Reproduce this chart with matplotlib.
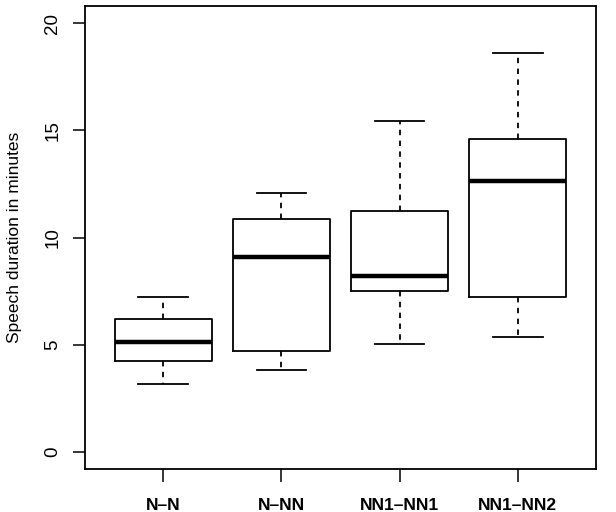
import matplotlib
matplotlib.use("Agg")
import matplotlib.pyplot as plt

# groups and five-number summaries
groups = ["N\u2013N", "N\u2013NN", "NN1\u2013NN1", "NN1\u2013NN2"]
whisker_low = [3.18, 3.82, 5.03, 5.37]
q1 = [4.24, 4.69, 7.51, 7.21]
median = [5.14, 9.07, 8.22, 12.62]
q3 = [6.19, 10.86, 11.26, 14.60]
whisker_high = [7.21, 12.09, 15.45, 18.62]

plt.rcParams["font.family"] = ["Liberation Sans", "DejaVu Sans"]

stats = []
for i, g in enumerate(groups):
    stats.append(
        dict(
            label=g,
            whislo=whisker_low[i],
            q1=q1[i],
            med=median[i],
            q3=q3[i],
            whishi=whisker_high[i],
            fliers=[],
        )
    )

fig = plt.figure(figsize=(6.16, 5.12), dpi=100)
ax = fig.add_axes([0.138, 0.084, 0.8295, 0.904])

ax.bxp(
    stats,
    positions=[1, 2, 3, 4],
    widths=0.82,
    showfliers=False,
    boxprops=dict(color="black", linewidth=1.3),
    medianprops=dict(color="black", linewidth=3.2, solid_capstyle="butt"),
    whiskerprops=dict(color="black", linewidth=1.3, linestyle=(0, (3, 3))),
    capprops=dict(color="black", linewidth=1.3),
    capwidths=0.42,
)

ax.set_xlim(0.34, 4.66)
ax.set_ylim(-0.8, 20.8)
ax.set_yticks([0, 5, 10, 15, 20])
ax.set_yticklabels(["0", "5", "10", "15", "20"], rotation=90, va="center")
ax.set_xticks([1, 2, 3, 4])
ax.set_xticklabels(groups, fontweight="semibold")
ax.tick_params(axis="both", length=9, width=1.1, direction="out", pad=8)
ax.tick_params(axis="y", labelsize=13.5)
ax.tick_params(axis="x", labelsize=12.5, pad=12)
ax.set_ylabel("Speech duration in minutes", fontsize=12.5, labelpad=16)
for s in ax.spines.values():
    s.set_linewidth(1.3)

fig.savefig("out.png", dpi=100)
